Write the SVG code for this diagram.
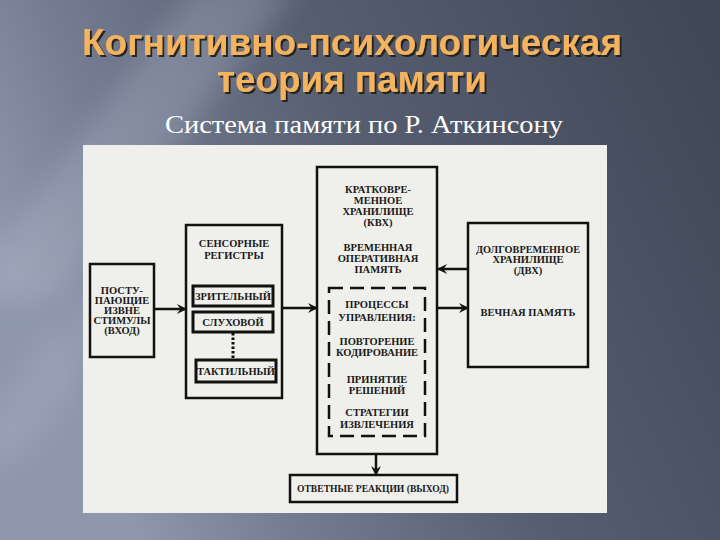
<svg xmlns="http://www.w3.org/2000/svg" width="720" height="540" viewBox="0 0 720 540">
  <defs>
    <linearGradient id="bg" x1="0" y1="0.45" x2="1" y2="0.1">
      <stop offset="0" stop-color="#8e97ac"/>
      <stop offset="0.2" stop-color="#737c91"/>
      <stop offset="0.5" stop-color="#565e70"/>
      <stop offset="1" stop-color="#404757"/>
    </linearGradient>
    <filter id="blur" x="-20%" y="-20%" width="140%" height="140%">
      <feGaussianBlur stdDeviation="14"/>
    </filter>
    <filter id="shadow" x="-5%" y="-20%" width="110%" height="150%">
      <feDropShadow dx="2" dy="2" stdDeviation="0.6" flood-color="#1e1a12" flood-opacity="0.9"/>
    </filter>
    <marker id="ah" viewBox="0 0 10 10" refX="9" refY="5" markerWidth="10" markerHeight="10" markerUnits="userSpaceOnUse" orient="auto">
      <path d="M0,0 L10,5 L0,10 L3.5,5 z" fill="#111"/>
    </marker>
    <style>
      .title { font-family: "Liberation Sans", Arial, sans-serif; font-weight: bold; font-size: 36px; text-anchor: middle; fill: #f4b35e; }
      .sub { font-family: "Liberation Serif", "Times New Roman", serif; font-size: 26px; fill: #ffffff; text-anchor: middle; }
      .box { fill: none; stroke: #111; stroke-width: 2.5; }
      .ibox { fill: none; stroke: #111; stroke-width: 3; }
      .dash { fill: none; stroke: #111; stroke-width: 2.5; stroke-dasharray: 14 7; }
      .t { font-family: "Liberation Serif", "Times New Roman", serif; font-weight: bold; font-size: 10.5px; fill: #1a1a1a; text-anchor: middle; }
      .conn { fill: none; stroke: #111; stroke-width: 2.5; }
    </style>
  </defs>

  <!-- background -->
  <rect x="0" y="0" width="720" height="540" fill="url(#bg)"/>
  <polygon points="-40,300 60,300 300,-20 200,-20" fill="#c5cbdc" opacity="0.25" filter="url(#blur)"/>
  <polygon points="-40,460 20,460 180,240 120,240" fill="#c5cbdc" opacity="0.18" filter="url(#blur)"/>

  <!-- title -->
  <g id="title">
    <g filter="url(#shadow)">
      <text class="title" x="352" y="55" textLength="540" lengthAdjust="spacingAndGlyphs">Когнитивно-психологическая</text>
      <text class="title" x="352" y="92" textLength="270" lengthAdjust="spacingAndGlyphs">теория памяти</text>
    </g>
    <text class="sub" x="364" y="133" textLength="398" lengthAdjust="spacingAndGlyphs">Система памяти по Р. Аткинсону</text>
  </g>

  <!-- scanned figure area -->
  <rect x="83" y="145" width="524" height="368" fill="#efefeb"/>

  <g id="connectors">
    <line class="conn" x1="154" y1="309" x2="186" y2="309" marker-end="url(#ah)"/>
    <line class="conn" x1="282" y1="308" x2="317" y2="308" marker-end="url(#ah)"/>
    <line class="conn" x1="468" y1="269" x2="438" y2="269" marker-end="url(#ah)"/>
    <line class="conn" x1="437" y1="308" x2="468" y2="308" marker-end="url(#ah)"/>
    <line class="conn" x1="376" y1="454" x2="376" y2="475" marker-end="url(#ah)"/>
    <line x1="233" y1="333" x2="233" y2="360" stroke="#111" stroke-width="3" stroke-dasharray="2.5 2"/>
  </g>

  <g id="input">
    <rect class="box" x="90" y="264" width="64" height="93"/>
    <text class="t" x="122" y="294">ПОСТУ-</text>
    <text class="t" x="122" y="304">ПАЮЩИЕ</text>
    <text class="t" x="122" y="314">ИЗВНЕ</text>
    <text class="t" x="122" y="324">СТИМУЛЫ</text>
    <text class="t" x="122" y="334">(ВХОД)</text>
  </g>

  <g id="sensory">
    <rect class="box" x="186" y="225" width="96" height="173"/>
    <text class="t" x="234" y="247">СЕНСОРНЫЕ</text>
    <text class="t" x="234" y="259">РЕГИСТРЫ</text>
  </g>
  <g id="visual">
    <rect class="ibox" x="193" y="286" width="80" height="20"/>
    <text class="t" x="233" y="300" textLength="76" lengthAdjust="spacingAndGlyphs">ЗРИТЕЛЬНЫЙ</text>
  </g>
  <g id="auditory">
    <rect class="ibox" x="193" y="312" width="80" height="20"/>
    <text class="t" x="233" y="326">СЛУХОВОЙ</text>
  </g>
  <g id="tactile">
    <rect class="ibox" x="196" y="360" width="80" height="22"/>
    <text class="t" x="236" y="375" textLength="78" lengthAdjust="spacingAndGlyphs">ТАКТИЛЬНЫЙ</text>
  </g>

  <g id="stm">
    <rect class="box" x="317" y="167" width="120" height="287"/>
    <text class="t" x="378" y="193">КРАТКОВРЕ-</text>
    <text class="t" x="378" y="204">МЕННОЕ</text>
    <text class="t" x="378" y="215">ХРАНИЛИЩЕ</text>
    <text class="t" x="378" y="226">(КВХ)</text>
    <text class="t" x="378" y="251">ВРЕМЕННАЯ</text>
    <text class="t" x="378" y="262">ОПЕРАТИВНАЯ</text>
    <text class="t" x="378" y="273">ПАМЯТЬ</text>
  </g>
  <g id="control">
    <rect class="dash" x="329" y="288" width="96" height="148"/>
    <text class="t" x="377" y="308">ПРОЦЕССЫ</text>
    <text class="t" x="377" y="321">УПРАВЛЕНИЯ:</text>
    <text class="t" x="377" y="345">ПОВТОРЕНИЕ</text>
    <text class="t" x="377" y="356">КОДИРОВАНИЕ</text>
    <text class="t" x="377" y="383">ПРИНЯТИЕ</text>
    <text class="t" x="377" y="394">РЕШЕНИЙ</text>
    <text class="t" x="377" y="416">СТРАТЕГИИ</text>
    <text class="t" x="377" y="428">ИЗВЛЕЧЕНИЯ</text>
  </g>

  <g id="ltm">
    <rect class="box" x="468" y="223" width="120" height="144"/>
    <text class="t" x="528" y="253" textLength="104" lengthAdjust="spacingAndGlyphs">ДОЛГОВРЕМЕННОЕ</text>
    <text class="t" x="528" y="263">ХРАНИЛИЩЕ</text>
    <text class="t" x="528" y="274">(ДВХ)</text>
    <text class="t" x="528" y="316">ВЕЧНАЯ ПАМЯТЬ</text>
  </g>

  <g id="output">
    <rect class="box" x="290" y="475" width="167" height="27"/>
    <text class="t" x="373" y="492" textLength="152" lengthAdjust="spacingAndGlyphs">ОТВЕТНЫЕ РЕАКЦИИ (ВЫХОД)</text>
  </g>
</svg>
